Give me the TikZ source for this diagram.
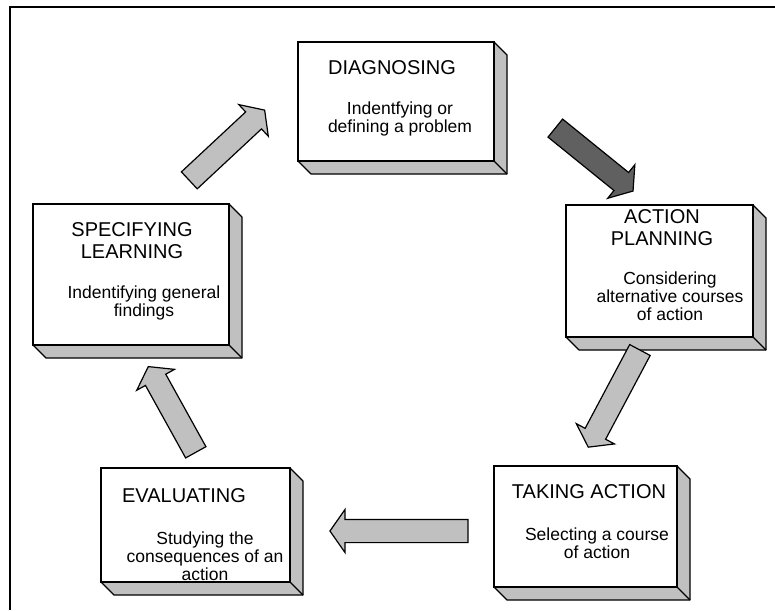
\documentclass[tikz,border=0pt]{standalone}
\usepackage{fontspec}
\setmainfont{Liberation Sans}
\usetikzlibrary{shapes.arrows,calc}
\definecolor{sidegray}{HTML}{C0C0C0}
\definecolor{arrowdark}{HTML}{606060}
\tikzset{
  face/.style={draw=black, line width=1.8pt, fill=white, inner sep=0pt, outer sep=0pt},
  ttl/.style={anchor=north, inner sep=0pt, align=center, font=\fontsize{20}{22}\selectfont},
  desc/.style={anchor=north, inner sep=0pt, align=center, font=\fontsize{17.5}{18}\selectfont},
  blockarrow/.style={single arrow, draw=black, line width=1.2pt, fill=sidegray,
    inner xsep=0pt, inner ysep=11pt, single arrow head extend=10pt,
    single arrow tip angle=110, minimum height=#1}
}
\begin{document}
\begin{tikzpicture}[x=1pt,y=-1pt]
\useasboundingbox (0,0) rectangle (775,610);
\draw[line width=2.5pt] (10,610) -- (10,7) -- (775,7); % frame
% the five stages
\node[face, minimum width=196pt, minimum height=119pt] (diag) at (396,101.5) {};
\node[face, minimum width=187pt, minimum height=132pt] (plan) at (659.5,271) {};
\node[face, minimum width=183pt, minimum height=121pt] (take) at (585.5,526.5) {};
\node[face, minimum width=189pt, minimum height=114pt] (eval) at (195.5,525) {};
\node[face, minimum width=196pt, minimum height=141pt] (spec) at (131,274.5) {};
\foreach \n in {diag,plan,take,eval,spec}{
  \filldraw[fill=sidegray, line width=1.2pt, line join=round]
    (\n.north east) -- ++(13,13) -- ($(\n.south east)+(13,13)$)
    -- ($(\n.south west)+(13,13)$) -- (\n.south west) -- (\n.south east) -- cycle;
  \draw[line width=1.2pt] (\n.south east) -- ++(13,13);
  \draw[line width=1.8pt] (\n.south west) -- (\n.south east) -- (\n.north east);
}
\node[ttl] (diagT) at (392,60) {DIAGNOSING};
\node[desc] (diagD) at (400,102) {Indentfying or\\defining a problem};
\node[ttl] (planT) at (662,209) {ACTION\\PLANNING};
\node[desc] (planD) at (670,272) {Considering\\alternative courses\\of action};
\node[ttl] (takeT) at (589,484) {TAKING ACTION};
\node[desc] (takeD) at (597,528) {Selecting a course\\of action};
\node[ttl] (evalT) at (184,488) {EVALUATING};
\node[desc] (evalD) at (205,532) {Studying the\\consequences of an\\action};
\node[ttl] (specT) at (132,222) {SPECIFYING\\LEARNING};
\node[desc] (specD) at (144,286) {Indentifying general\\findings};
% arrows round the cycle
\node[blockarrow=103, rotate=43] (a1) at (224,148) {};
\node[blockarrow=100, rotate=-39, fill=arrowdark] (a2) at (591,157) {};
\node[blockarrow=110, rotate=-118] (a3) at (616,395) {};
\node[blockarrow=138, rotate=180] (a4) at (403,531) {};
\node[blockarrow=98, rotate=119] (a5) at (174,413) {};
\end{tikzpicture}
\end{document}
